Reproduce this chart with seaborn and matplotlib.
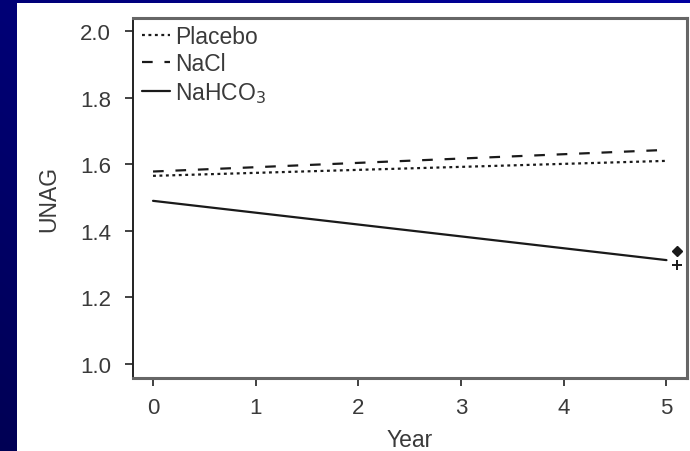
import numpy as np
import pandas as pd
import matplotlib
matplotlib.use("Agg")
import matplotlib.pyplot as plt
import seaborn as sns

# Fitted UNAG trajectories over follow-up
years = [0, 5]
placebo = [1.565, 1.610]
nacl = [1.578, 1.643]
nahco3 = [1.490, 1.312]
groups = ["Placebo", "NaCl", "NaHCO$_3$"]

# Significance markers at end of follow-up
sig_x = [5.1, 5.1]
sig_y = [1.340, 1.298]
sig_marker = ["D", "+"]

yticks = [1.0, 1.2, 1.4, 1.6, 1.8, 2.0]
xticks = [0, 1, 2, 3, 4, 5]

df = pd.DataFrame({
    "Year": years * 3,
    "UNAG": placebo + nacl + nahco3,
    "group": [g for g in groups for _ in years],
})

sns.set_theme(style="white")
plt.rcParams["font.family"] = ["Liberation Sans", "DejaVu Sans"]

fig = plt.figure(figsize=(6.9, 4.52), dpi=100)

# Blue slide background with a gentle gradient
bg = fig.add_axes([0, 0, 1, 1], zorder=-10)
gx, gy = np.meshgrid(np.linspace(0, 1, 200), np.linspace(0, 1, 200))
t = 0.55 * gx + 0.45 * gy
cols = np.zeros((200, 200, 3))
cols[..., 2] = 0.33 + 0.30 * t
bg.imshow(cols, extent=[0, 1, 0, 1], origin="lower", aspect="auto")
bg.add_patch(plt.Rectangle((17 / 690, 0), 1.0, 1 - 4 / 452,
                           facecolor="white", edgecolor="none"))
bg.set_xlim(0, 1)
bg.set_ylim(0, 1)
bg.axis("off")

ax = fig.add_axes([133 / 690, 1 - 379 / 452, (687 - 133) / 690, (379 - 19) / 452])
ax.set_facecolor("white")

sns.lineplot(
    data=df, x="Year", y="UNAG", style="group", style_order=groups,
    dashes={"Placebo": (1.3, 1.6), "NaCl": (4.8, 5.3), "NaHCO$_3$": ""},
    color="#1a1a1a", linewidth=1.6, ax=ax,
)

for xv, yv, m in zip(sig_x, sig_y, sig_marker):
    if m == "D":
        ax.plot(xv, yv, marker=m, color="#1a1a1a", markersize=5.5, linestyle="none")
    else:
        ax.plot(xv, yv, marker=m, color="#1a1a1a", markersize=7, mew=1.4, linestyle="none")

ax.set_xlim(-0.195, 5.2)
ax.set_ylim(0.958, 2.039)
ax.set_xticks(xticks)
ax.set_xticklabels([str(v) for v in xticks])
ax.set_yticks(yticks)
ax.set_yticklabels([f"{v:.1f}" for v in yticks])

text_col = "#3a3a3a"
ax.tick_params(axis="both", direction="out", length=6, width=1.3, color="#333333",
               labelsize=16, labelcolor=text_col, bottom=True, left=True)
ax.tick_params(axis="y", pad=10)
ax.tick_params(axis="x", pad=8)
ax.set_xlabel("Year", fontsize=16.5, color=text_col, labelpad=7)
ax.set_ylabel("UNAG", fontsize=16.5, color=text_col, labelpad=14)

ax.spines["left"].set_color("#222222")
ax.spines["left"].set_linewidth(1.4)
for side in ["top", "right", "bottom"]:
    ax.spines[side].set_color("#666666")
    ax.spines[side].set_linewidth(2.2)

leg = ax.legend(loc="upper left", frameon=False, fontsize=16.5, handlelength=1.25,
                handletextpad=0.2, labelspacing=0.2, borderaxespad=0.0,
                borderpad=0.3, bbox_to_anchor=(0.003, 1.0))
for txt in leg.get_texts():
    txt.set_color(text_col)

fig.savefig("out.png", dpi=100)
